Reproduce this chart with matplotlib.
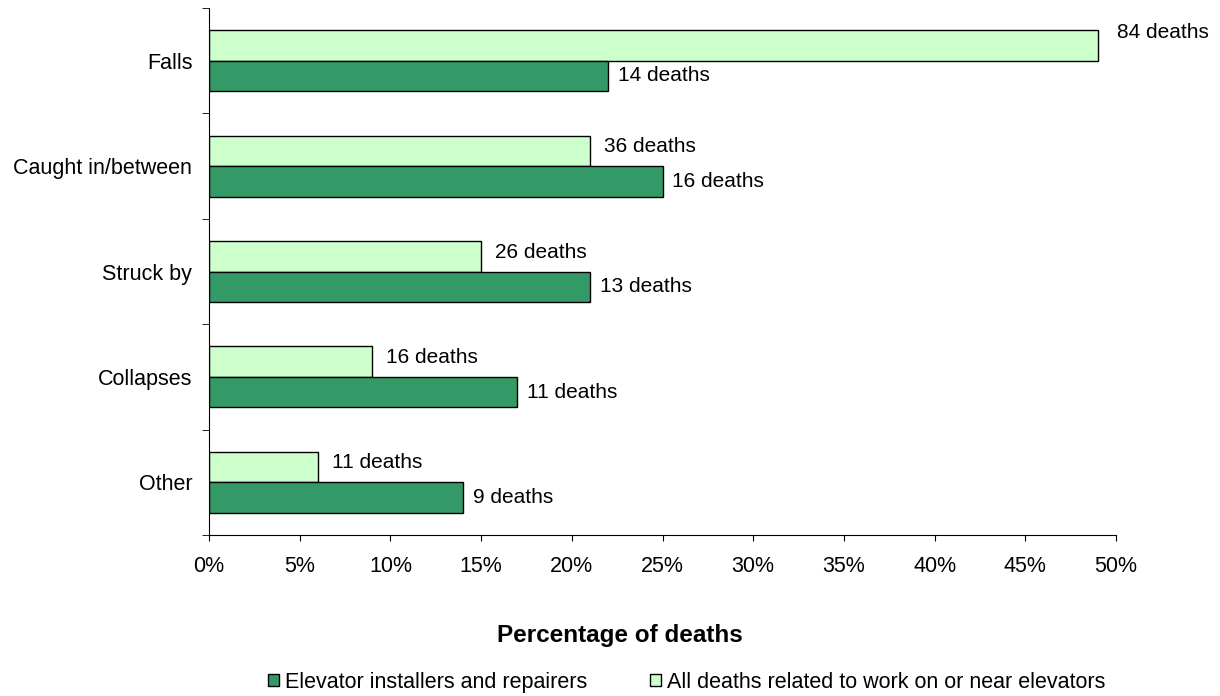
import numpy as np
import matplotlib.pyplot as plt
from matplotlib.patches import Patch
from matplotlib.ticker import FuncFormatter

plt.rcParams['font.family'] = ['Liberation Sans', 'DejaVu Sans']

categories = ["Falls", "Caught in/between", "Struck by", "Collapses", "Other"]
installers_pct = [22, 25, 21, 17, 14]
installers_deaths = [14, 16, 13, 11, 9]
all_pct = [49, 21, 15, 9, 6]
all_deaths = [84, 36, 26, 16, 11]

dark = '#339966'
light = '#CCFFCC'

fig = plt.figure(figsize=(12.2, 6.96), dpi=100)
ax = fig.add_axes([0.1713, 0.2313, 0.9148 - 0.1713, 0.9885 - 0.2313])

n = len(categories)
y = np.arange(n)[::-1]
h = 0.29

ax.barh(y + h / 2, all_pct, height=h, color=light, edgecolor='black', linewidth=1)
ax.barh(y - h / 2, installers_pct, height=h, color=dark, edgecolor='black', linewidth=1)

for i in range(n):
    ax.annotate(f"{all_deaths[i]} deaths", (all_pct[i], y[i] + h / 2),
                xytext=(10 if all_pct[i] < 40 else 14, 3 if all_pct[i] < 40 else 9),
                textcoords='offset points', va='center', ha='left', fontsize=15)
    ax.annotate(f"{installers_deaths[i]} deaths", (installers_pct[i], y[i] - h / 2),
                xytext=(7, 0), textcoords='offset points',
                va='center', ha='left', fontsize=15)

ax.set_xlim(0, 50)
ax.set_ylim(-0.5, n - 0.5)
ax.set_xticks(np.arange(0, 51, 5))
ax.xaxis.set_major_formatter(FuncFormatter(lambda v, p: f"{v:.0f}%"))
ax.tick_params(axis='x', direction='out', length=4, pad=11, labelsize=15.5)

ax.set_yticks(y)
ax.set_yticklabels(categories)
ax.set_yticks(np.arange(-0.5, n, 1), minor=True)
ax.tick_params(axis='y', which='major', length=0, pad=12, labelsize=15.5)
ax.tick_params(axis='y', which='minor', direction='out', length=5)

ax.spines['top'].set_visible(False)
ax.spines['right'].set_visible(False)

fig.text(0.508, 0.0876, "Percentage of deaths", fontsize=17.5, fontweight='bold',
         ha='center', va='center')

handles = [Patch(facecolor=dark, edgecolor='black', label='Elevator installers and repairers'),
           Patch(facecolor=light, edgecolor='black', label='All deaths related to work on or near elevators')]
fig.legend(handles=handles, loc='center left', bbox_to_anchor=(0.2197, 0.02), ncol=2,
           frameon=False, fontsize=15.5, handlelength=0.5, handleheight=0.5,
           handletextpad=0.3, columnspacing=2.9, borderpad=0, borderaxespad=0)

fig.savefig('out.png', dpi=100)
